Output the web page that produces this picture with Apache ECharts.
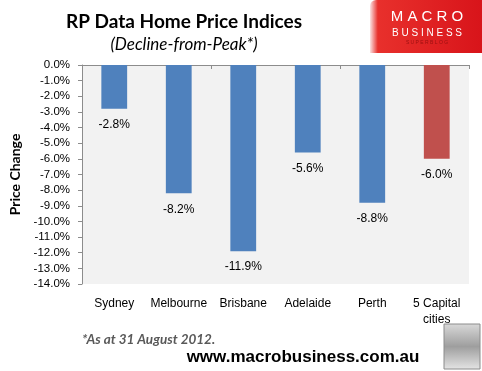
<!DOCTYPE html>
<html><head><meta charset="utf-8">
<script src="https://cdn.jsdelivr.net/npm/echarts@6/dist/echarts.min.js"></script>
<style>html,body{margin:0;padding:0;background:#fff}#c{width:482px;height:371px}</style>
</head><body><div id="c"></div>
<script>
const categories = ['Sydney', 'Melbourne', 'Brisbane', 'Adelaide', 'Perth', '5 Capital\ncities'];
const values = [-2.8, -8.2, -11.9, -5.6, -8.8, -6.0];
const barColors = ['#4f81bd', '#4f81bd', '#4f81bd', '#4f81bd', '#4f81bd', '#c0504d'];
const yMin = -14, yMax = 0, yStep = 1;

const chart = echarts.init(document.getElementById('c'), null, {renderer: 'canvas'});
const tickFont = 'Liberation Sans, Arial, sans-serif';
chart.setOption({
  animation: false,
  title: [
    {text: 'RP Data Home Price Indices', left: 179, top: 7, textAlign: 'center',
     textStyle: {fontFamily: 'Lato, sans-serif', fontWeight: 'bold', fontSize: 19, color: '#000'}},
    {text: '(Decline-from-Peak*)', left: 179, top: 31, textAlign: 'center',
     textStyle: {fontFamily: 'Lato, sans-serif', fontStyle: 'italic', fontWeight: 'normal', fontSize: 17, color: '#000'}}
  ],
  grid: {left: 66, right: 13, top: 65, height: 219, show: true, backgroundColor: '#f2f2f2', borderWidth: 0, containLabel: false},
  xAxis: [
    {type: 'category', data: categories, position: 'bottom',
     axisLine: {show: false}, axisTick: {show: false},
     axisLabel: {interval: 0, fontFamily: tickFont, fontSize: 12, color: '#000', margin: 12, lineHeight: 16}},
    {type: 'category', data: categories, position: 'top',
     axisLine: {show: true, lineStyle: {color: '#8c8c8c'}},
     axisTick: {show: true, inside: true, length: 4, lineStyle: {color: '#8c8c8c'}},
     axisLabel: {show: false}}
  ],
  yAxis: {type: 'value', min: yMin, max: yMax, interval: yStep,
    name: 'Price Change', nameLocation: 'middle', nameGap: 60, nameRotate: 90,
    nameTextStyle: {fontFamily: 'Lato, sans-serif', fontWeight: 'bold', fontSize: 14, color: '#000'},
    axisLine: {show: true, lineStyle: {color: '#8c8c8c'}},
    axisTick: {show: true, length: 4, lineStyle: {color: '#8c8c8c'}},
    splitLine: {show: false},
    axisLabel: {fontFamily: tickFont, fontSize: 11.5, color: '#000', margin: 12,
      formatter: v => v.toFixed(1) + '%'}},
  series: [{
    type: 'bar', xAxisIndex: 0,
    data: values.map((v, i) => ({value: v, itemStyle: {color: barColors[i]}})),
    barWidth: '40%',
    label: {show: true, position: 'bottom', distance: 10, fontFamily: tickFont, fontSize: 12, color: '#000',
      formatter: p => p.value.toFixed(1) + '%'}
  }],
  graphic: [
    {type: 'rect', shape: {x: 370, y: 0, width: 112, height: 53, r: [6, 0, 0, 0]},
     style: {fill: new echarts.graphic.LinearGradient(0, 0, 1, 0, [
       {offset: 0, color: '#fbe3e3'}, {offset: 0.07, color: '#e8302c'}, {offset: 1, color: '#d8141a'}])}},
    {type: 'text', x: 427, y: 17, style: {text: 'M A C R O', textAlign: 'center', textVerticalAlign: 'middle',
      font: '15px "Liberation Sans", Arial, sans-serif', fill: '#fff'}},
    {type: 'text', x: 427, y: 33, style: {text: 'B U S I N E S S', textAlign: 'center', textVerticalAlign: 'middle',
      font: '10px "Liberation Sans", Arial, sans-serif', fill: '#fff'}},
    {type: 'text', x: 427, y: 43, style: {text: 'S U P E R B L O G', textAlign: 'center', textVerticalAlign: 'middle',
      font: '5px "Liberation Sans", Arial, sans-serif', fill: '#9a1010'}},
    {type: 'text', x: 82, y: 340, style: {text: '*As at 31 August 2012.', textVerticalAlign: 'middle',
      font: 'italic bold 13.5px Lato, sans-serif', fill: '#595959'}},
    {type: 'text', x: 303, y: 357, style: {text: 'www.macrobusiness.com.au', textAlign: 'center', textVerticalAlign: 'middle',
      font: 'bold 17px "Liberation Sans", Arial, sans-serif', fill: '#000'}},
    {type: 'rect', shape: {x: 444, y: 324, width: 36, height: 45},
     style: {fill: new echarts.graphic.LinearGradient(0, 0, 0, 1, [
       {offset: 0, color: '#d9d9d9'}, {offset: 0.5, color: '#9e9e9e'}, {offset: 1, color: '#e5e5e5'}]),
       stroke: '#8c8c8c', lineWidth: 1}}
  ]
});
</script></body></html>
